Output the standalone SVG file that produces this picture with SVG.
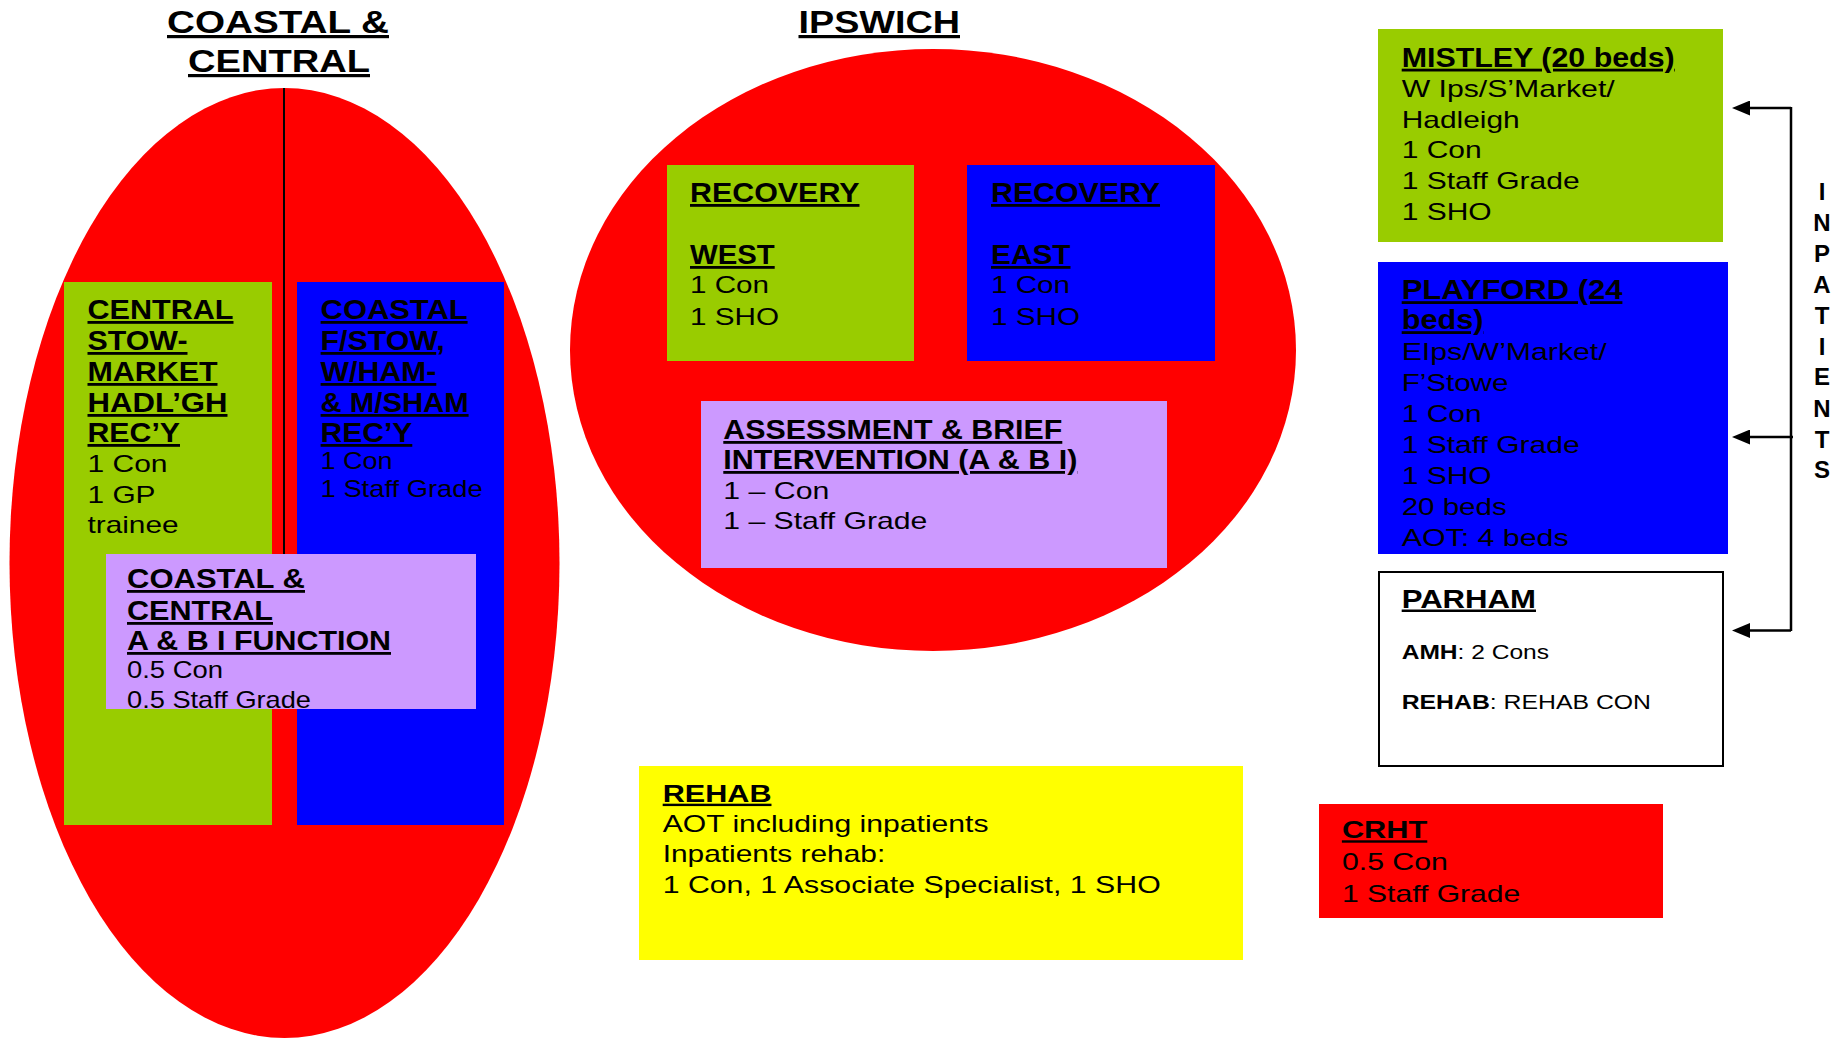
<svg xmlns="http://www.w3.org/2000/svg" width="1843" height="1039" viewBox="0 0 1843 1039">
<style>
text{font-family:"Liberation Sans",Arial,sans-serif;fill:#000}
.ttl{font-size:32px;font-weight:bold;text-decoration:underline}
.h{font-size:28px;font-weight:bold;text-decoration:underline}
.hs{font-size:25px;font-weight:bold;text-decoration:underline}
.t{font-size:24px}
.s{font-size:20px}
.b{font-weight:bold}
.u{text-decoration:underline}
.lt{font-size:24px;font-weight:bold;text-anchor:middle}
.red{fill:#FF0000}
.grn{fill:#99CC00}
.blu{fill:#0000FF}
.pur{fill:#CC99FF}
.yel{fill:#FFFF00}
.conn{stroke:#000;stroke-width:2.5;fill:none}
</style>
<defs>
<marker id="arr" viewBox="0 0 18 15" refX="8" refY="7.5" markerWidth="18" markerHeight="15" markerUnits="userSpaceOnUse" orient="auto">
<path d="M0,0 L18,7.5 L0,15 Z" fill="#000"/>
</marker>
</defs>

<g id="coastal-central-region">
<text class="ttl" x="167" y="33" textLength="222" lengthAdjust="spacingAndGlyphs">COASTAL &amp;</text>
<text class="ttl" x="188" y="72" textLength="182" lengthAdjust="spacingAndGlyphs">CENTRAL</text>
<ellipse class="red" cx="284.5" cy="563" rx="275" ry="475"/>
<line x1="284" y1="88" x2="284" y2="554" stroke="#000" stroke-width="2"/>
</g>

<g id="central-stowmarket">
<rect class="grn" x="64" y="282" width="208" height="543"/>
<text class="h" x="87.5" y="319" textLength="146" lengthAdjust="spacingAndGlyphs">CENTRAL</text>
<text class="h" x="87.5" y="350" textLength="100" lengthAdjust="spacingAndGlyphs">STOW-</text>
<text class="h" x="87.5" y="381" textLength="130" lengthAdjust="spacingAndGlyphs">MARKET</text>
<text class="h" x="87.5" y="412" textLength="140" lengthAdjust="spacingAndGlyphs">HADL’GH</text>
<text class="h" x="87.5" y="442" textLength="92.5" lengthAdjust="spacingAndGlyphs">REC’Y</text>
<text class="t" x="87.5" y="472" textLength="80" lengthAdjust="spacingAndGlyphs">1 Con</text>
<text class="t" x="87.5" y="503" textLength="68" lengthAdjust="spacingAndGlyphs">1 GP</text>
<text class="t" x="87.5" y="533" textLength="91" lengthAdjust="spacingAndGlyphs">trainee</text>
</g>

<g id="coastal-fstow">
<rect class="blu" x="297" y="282" width="207" height="543"/>
<text class="h" x="320.6" y="319" textLength="147" lengthAdjust="spacingAndGlyphs">COASTAL</text>
<text x="320.6" y="350" font-size="28" font-weight="bold" textLength="124" lengthAdjust="spacingAndGlyphs"><tspan class="u">F/STOW</tspan>,</text>
<text class="h" x="320.6" y="381" textLength="115.7" lengthAdjust="spacingAndGlyphs">W/HAM-</text>
<text class="h" x="320.6" y="412" textLength="148" lengthAdjust="spacingAndGlyphs">&amp; M/SHAM</text>
<text class="h" x="320.6" y="442" textLength="91.7" lengthAdjust="spacingAndGlyphs">REC’Y</text>
<text class="t" x="320.6" y="469" textLength="72" lengthAdjust="spacingAndGlyphs">1 Con</text>
<text class="t" x="320.6" y="497" textLength="162" lengthAdjust="spacingAndGlyphs">1 Staff Grade</text>
</g>

<g id="cc-abi-function">
<rect class="pur" x="106" y="554" width="370" height="155"/>
<text class="h" x="127" y="588" textLength="178" lengthAdjust="spacingAndGlyphs">COASTAL &amp;</text>
<text class="h" x="127" y="620" textLength="146" lengthAdjust="spacingAndGlyphs">CENTRAL</text>
<text class="h" x="127" y="650" textLength="264" lengthAdjust="spacingAndGlyphs">A &amp; B I FUNCTION</text>
<text class="t" x="127" y="678" textLength="96" lengthAdjust="spacingAndGlyphs">0.5 Con</text>
<text class="t" x="127" y="708" textLength="184" lengthAdjust="spacingAndGlyphs">0.5 Staff Grade</text>
</g>

<g id="ipswich-region">
<text class="ttl" x="798.5" y="33" textLength="161.5" lengthAdjust="spacingAndGlyphs">IPSWICH</text>
<ellipse class="red" cx="933" cy="350" rx="363" ry="301"/>
</g>

<g id="recovery-west">
<rect class="grn" x="667" y="165" width="247" height="196"/>
<text class="h" x="690" y="202" textLength="169.5" lengthAdjust="spacingAndGlyphs">RECOVERY</text>
<text class="h" x="690" y="264" textLength="84.7" lengthAdjust="spacingAndGlyphs">WEST</text>
<text class="t" x="690" y="293" textLength="79" lengthAdjust="spacingAndGlyphs">1 Con</text>
<text class="t" x="690" y="325" textLength="89" lengthAdjust="spacingAndGlyphs">1 SHO</text>
</g>

<g id="recovery-east">
<rect class="blu" x="967" y="165" width="248" height="196"/>
<text class="h" x="991" y="202" textLength="169" lengthAdjust="spacingAndGlyphs">RECOVERY</text>
<text class="h" x="991" y="264" textLength="79.5" lengthAdjust="spacingAndGlyphs">EAST</text>
<text class="t" x="991" y="293" textLength="79" lengthAdjust="spacingAndGlyphs">1 Con</text>
<text class="t" x="991" y="325" textLength="89" lengthAdjust="spacingAndGlyphs">1 SHO</text>
</g>

<g id="assessment-brief-intervention">
<rect class="pur" x="701" y="401" width="466" height="167"/>
<text class="h" x="723.3" y="439" textLength="339" lengthAdjust="spacingAndGlyphs">ASSESSMENT &amp; BRIEF</text>
<text class="h" x="723.3" y="469" textLength="354" lengthAdjust="spacingAndGlyphs">INTERVENTION (A &amp; B I)</text>
<text class="t" x="723.3" y="499" textLength="106" lengthAdjust="spacingAndGlyphs">1 – Con</text>
<text class="t" x="723.3" y="529" textLength="204" lengthAdjust="spacingAndGlyphs">1 – Staff Grade</text>
</g>

<g id="mistley">
<rect class="grn" x="1378" y="29" width="345" height="213"/>
<text class="h" x="1401.7" y="66.7" textLength="273" lengthAdjust="spacingAndGlyphs">MISTLEY (20 beds)</text>
<text class="t" x="1401.7" y="97.3" textLength="213" lengthAdjust="spacingAndGlyphs">W Ips/S’Market/</text>
<text class="t" x="1401.7" y="128.3" textLength="118" lengthAdjust="spacingAndGlyphs">Hadleigh</text>
<text class="t" x="1401.7" y="157.7" textLength="80" lengthAdjust="spacingAndGlyphs">1 Con</text>
<text class="t" x="1401.7" y="189.3" textLength="178" lengthAdjust="spacingAndGlyphs">1 Staff Grade</text>
<text class="t" x="1401.7" y="220" textLength="90" lengthAdjust="spacingAndGlyphs">1 SHO</text>
</g>

<g id="playford">
<rect class="blu" x="1378" y="262" width="350" height="292"/>
<text class="h" x="1401.7" y="299.2" textLength="220.7" lengthAdjust="spacingAndGlyphs">PLAYFORD (24</text>
<text class="h" x="1401.7" y="329.2" textLength="81.7" lengthAdjust="spacingAndGlyphs">beds)</text>
<text class="t" x="1401.7" y="360.2" textLength="205" lengthAdjust="spacingAndGlyphs">EIps/W’Market/</text>
<text class="t" x="1401.7" y="390.5" textLength="106.7" lengthAdjust="spacingAndGlyphs">F’Stowe</text>
<text class="t" x="1401.7" y="421.5" textLength="80" lengthAdjust="spacingAndGlyphs">1 Con</text>
<text class="t" x="1401.7" y="452.5" textLength="178" lengthAdjust="spacingAndGlyphs">1 Staff Grade</text>
<text class="t" x="1401.7" y="483.5" textLength="90" lengthAdjust="spacingAndGlyphs">1 SHO</text>
<text class="t" x="1401.7" y="514.5" textLength="105" lengthAdjust="spacingAndGlyphs">20 beds</text>
<text class="t" x="1401.7" y="545.5" textLength="167" lengthAdjust="spacingAndGlyphs">AOT: 4 beds</text>
</g>

<g id="parham">
<rect x="1379" y="572" width="344" height="194" fill="#FFFFFF" stroke="#000" stroke-width="2"/>
<text class="hs" x="1401.7" y="607.5" textLength="134.3" lengthAdjust="spacingAndGlyphs">PARHAM</text>
<text class="s" x="1401.7" y="659" textLength="147.3" lengthAdjust="spacingAndGlyphs"><tspan class="b">AMH</tspan>: 2 Cons</text>
<text class="s" x="1401.7" y="709" textLength="249.3" lengthAdjust="spacingAndGlyphs"><tspan class="b">REHAB</tspan>: REHAB CON</text>
</g>

<g id="rehab">
<rect class="yel" x="639" y="766" width="604" height="194"/>
<text class="t b u" x="662.7" y="801.7" textLength="108.8" lengthAdjust="spacingAndGlyphs">REHAB</text>
<text class="t" x="662.7" y="831.7" textLength="325.8" lengthAdjust="spacingAndGlyphs">AOT including inpatients</text>
<text class="t" x="662.7" y="862.3" textLength="222.5" lengthAdjust="spacingAndGlyphs">Inpatients rehab:</text>
<text class="t" x="662.7" y="893.3" textLength="498" lengthAdjust="spacingAndGlyphs">1 Con, 1 Associate Specialist, 1 SHO</text>
</g>

<g id="crht">
<rect class="red" x="1319" y="804" width="344" height="114"/>
<text class="t b u" x="1341.9" y="838.3" textLength="85.4" lengthAdjust="spacingAndGlyphs">CRHT</text>
<text class="t" x="1341.9" y="870" textLength="106" lengthAdjust="spacingAndGlyphs">0.5 Con</text>
<text class="t" x="1341.9" y="901.7" textLength="178.4" lengthAdjust="spacingAndGlyphs">1 Staff Grade</text>
</g>

<g id="connectors">
<line class="conn" x1="1791" y1="107" x2="1791" y2="631"/>
<line class="conn" x1="1791" y1="108" x2="1742" y2="108" marker-end="url(#arr)"/>
<line class="conn" x1="1793" y1="437" x2="1742" y2="437" marker-end="url(#arr)"/>
<line class="conn" x1="1791" y1="630.5" x2="1742" y2="630.5" marker-end="url(#arr)"/>
</g>

<g id="inpatients-label">
<text class="lt" x="1822" y="200">I</text>
<text class="lt" x="1822" y="231">N</text>
<text class="lt" x="1822" y="262">P</text>
<text class="lt" x="1822" y="292.5">A</text>
<text class="lt" x="1822" y="324">T</text>
<text class="lt" x="1822" y="355">I</text>
<text class="lt" x="1822" y="385">E</text>
<text class="lt" x="1822" y="417">N</text>
<text class="lt" x="1822" y="448">T</text>
<text class="lt" x="1822" y="478">S</text>
</g>
</svg>
